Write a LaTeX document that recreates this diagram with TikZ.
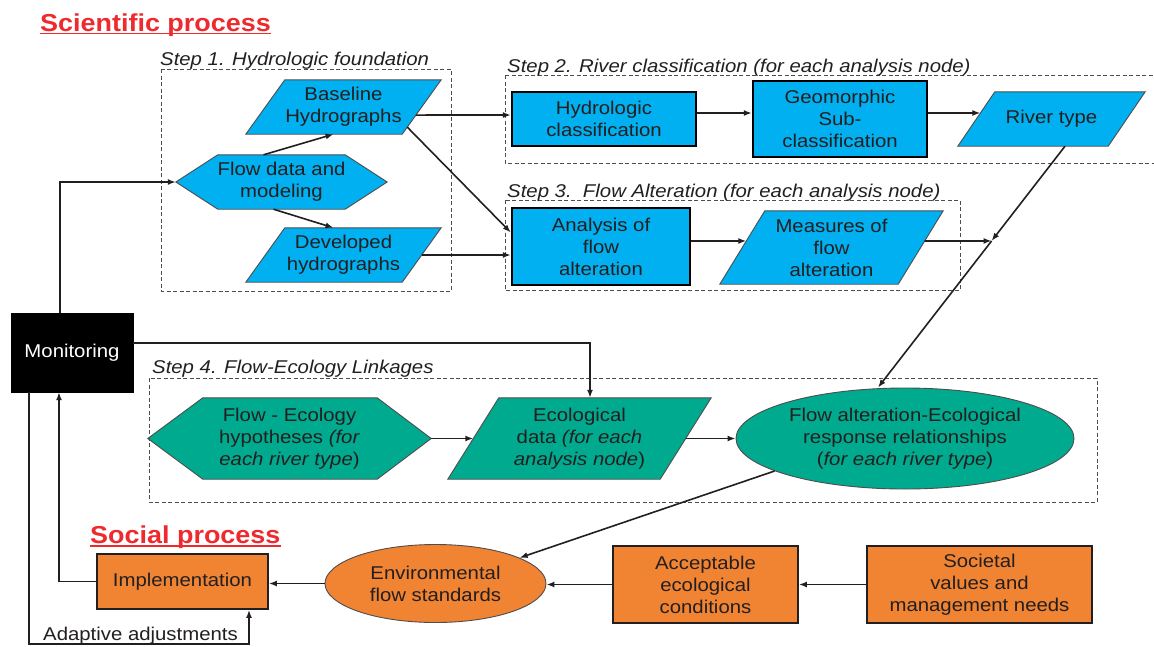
\documentclass[tikz,border=0pt]{standalone}
\usepackage{fontspec}
\setmainfont{Liberation Sans}[FakeStretch=1.1]
\usetikzlibrary{shapes.geometric,arrows.meta,calc}
\pgfdeclarelayer{bg}
\pgfsetlayers{bg,main}
\definecolor{cyanfill}{RGB}{0,176,240}
\definecolor{tealfill}{RGB}{0,170,142}
\definecolor{orangefill}{RGB}{240,132,51}
\definecolor{titlered}{RGB}{238,42,46}
\definecolor{ink}{RGB}{35,31,32}
\newcommand\drawpara[3]{\begin{pgfonlayer}{bg}\path[#3] (#1.south west) -- ($(#1.north west)+(#2,0)$) -- (#1.north east) -- ($(#1.south east)+(-#2,0)$) -- cycle;\end{pgfonlayer}}
\newcommand\drawhex[4]{\begin{pgfonlayer}{bg}\path[#4] (#1.west) -- ($(#1.north west)+(#2,0)$) -- ($(#1.north east)+(-#3,0)$) -- (#1.east) -- ($(#1.south east)+(-#3,0)$) -- ($(#1.south west)+(#2,0)$) -- cycle;\end{pgfonlayer}}
\begin{document}
\begin{tikzpicture}[x=1pt,y=-1pt,font=\fontsize{18.5}{22}\selectfont,
 lbl/.style={inner sep=0pt,align=center,text=ink},
 bluefill/.style={fill=cyanfill,draw=ink!80,line width=0.9pt},
 greenfill/.style={fill=tealfill,draw=ink!80,line width=0.9pt},
 thickbox/.style={lbl,rectangle,fill=cyanfill,draw=black,line width=2.4pt},
 orangebox/.style={lbl,rectangle,fill=orangefill,draw=ink,line width=1.8pt},
 stepframe/.style={draw=ink!80,line width=1pt,dash pattern=on 4pt off 2.5pt},
 steplabel/.style={anchor=base west,inner sep=0pt,text=ink,font=\fontsize{18.5}{22}\selectfont\itshape},
 arr/.style={draw=ink,line width=1.6pt,-{Latex[length=8pt,width=6pt]}},
 heading/.style={anchor=base west,inner sep=0pt,text=titlered,font=\fontsize{24.5}{28}\selectfont\bfseries}]
\useasboundingbox (0,0) rectangle (1154,646);
\begin{pgfonlayer}{bg}\fill[white] (0,0) rectangle (1154,646);\end{pgfonlayer}

% titles
\node[heading] (sci) at (40,31) {Scientific process};
\draw[titlered,line width=1.6pt] ($(sci.base west)+(0,2.5)$) -- ($(sci.base east)+(0,2.5)$);
\node[heading] (soctitle) at (90,543) {Social process};
\draw[titlered,line width=1.6pt] ($(soctitle.base west)+(0,3)$) -- ($(soctitle.base east)+(0,3)$);

% step frames
\draw[stepframe] (161,69) rectangle (451,291);
\node[steplabel] (s1) at (160,65) {Step 1. Hydrologic foundation};
\draw[stepframe] (505,75) rectangle (1160,163);
\node[steplabel] (s2) at (507,72) {Step 2. River classification (for each analysis node)};
\draw[stepframe] (505,200) rectangle (960,290);
\node[steplabel] (s3) at (507,197) {Step 3.~~Flow Alteration (for each analysis node)};
\draw[stepframe] (149,378) rectangle (1097,502);
\node[steplabel] (s4) at (152,373) {Step 4. Flow-Ecology Linkages};

% step 1
\node[lbl,minimum width=195pt,minimum height=54pt] (base) at (343.5,107) {Baseline\\Hydrographs};
\drawpara{base}{39}{bluefill}
\node[lbl,minimum width=211pt,minimum height=54pt] (fd) at (281.5,182) {Flow data and\\modeling};
\drawhex{fd}{42}{42}{bluefill}
\node[lbl,minimum width=195pt,minimum height=54pt] (dev) at (343.5,255) {Developed\\hydrographs};
\drawpara{dev}{39}{bluefill}

% step 2
\node[thickbox,minimum width=184pt,minimum height=54pt] (hydro) at (604,119) {Hydrologic\\classification};
\node[thickbox,minimum width=174pt,minimum height=76pt] (geo) at (840,119) {Geomorphic\\Sub-\\classification};
\node[lbl,minimum width=187pt,minimum height=54pt] (river) at (1051.5,119) {River type};
\drawpara{river}{37}{bluefill}

% step 3
\node[thickbox,minimum width=178pt,minimum height=77pt] (ana) at (601,246.5) {Analysis of\\flow\\alteration};
\node[lbl,minimum width=223pt,minimum height=73pt] (meas) at (831.5,247.5) {Measures of\\flow\\alteration};
\drawpara{meas}{45}{bluefill}

% monitoring
\node[draw=black,fill=black,text=white,inner sep=0pt,minimum width=122pt,minimum height=79pt] (mon) at (72,352.5) {Monitoring};

% step 4
\node[lbl,minimum width=283pt,minimum height=81pt] (feh) at (289.5,438.5) {Flow - Ecology\\hypotheses \textit{(for}\\\textit{each river type})};
\drawhex{feh}{55}{54}{greenfill}
\node[lbl,minimum width=263pt,minimum height=81pt] (eco) at (579.5,438.5) {Ecological\\data \textit{(for each}\\\textit{analysis node})};
\drawpara{eco}{51}{greenfill}
\node[lbl,ellipse,fill=tealfill,draw=ink!80,line width=0.9pt,minimum width=338pt,minimum height=101pt] (faer) at (905,438.5) {Flow alteration-Ecological\\response relationships\\(\textit{for each river type})};

% social
\node[orangebox,minimum width=171pt,minimum height=55pt] (impl) at (182.5,581.5) {Implementation};
\node[lbl,ellipse,fill=orangefill,draw=ink!80,line width=0.9pt,minimum width=221pt,minimum height=78pt] (env) at (435.5,583.5) {Environmental\\flow standards};
\node[orangebox,minimum width=185pt,minimum height=77pt] (acc) at (705.5,584.5) {Acceptable\\ecological\\conditions};
\node[orangebox,minimum width=225pt,minimum height=77pt] (soc) at (979.5,584.5) {Societal\\values and\\management needs};

% connectors
\draw[arr] ($(fd.north)+(-18,0)$) -- ($(base.south)+(-10,0)$);
\draw[arr] ($(fd.south)+(-8,0)$) -- ($(dev.north)+(-10,0)$);
\draw[arr] ($(base.south east)!0.352!(base.north east)+(-25.3,0)$) -- ($(hydro.west)+(0,-4)$);
\draw[arr] ($(base.south east)!0.13!(base.north east)+(-33.9,0)$) -- ($(ana.west)+(0,-14)$);
\draw[arr] ($(dev.east)+(-19.5,0)$) -- (dev.east -| ana.west);
\draw[arr] ($(hydro.east)+(0,-6)$) -- ($(geo.west)+(0,-6)$);
\draw[arr] ($(geo.east)+(0,-6)$) -- ($(river.south west)!0.611!(river.north west)+(22.6,0)$);
\draw[arr] ($(ana.east)+(0,-5.5)$) -- ($(meas.south west)!0.589!(meas.north west)+(26.5,0)$);
\coordinate (rs) at ($(river.south)+(13.5,0)$);
\coordinate (fe) at ($(faer.north)+(-27,0)$);
\coordinate (J) at ($(rs)!0.3926!(fe)$);
\draw[arr] ($(meas.south east)!0.589!(meas.north east)+(-18.5,0)$) -- (J);
\draw[arr] (rs) -- (J);
\draw[arr] (J) -- (fe);
\draw[arr] ($(mon.north)+(-12,0)$) |- (fd.west);
\draw[arr] ($(mon.east)+(0,-9.5)$) -| ($(eco.north)+(10.5,0)$);
\draw[arr] (feh.east) -- ($(eco.west)+(25.5,0)$);
\draw[arr] ($(eco.east)+(-25.5,0)$) -- (faer.west);
\draw[arr] (faer.194) -- (env.17);
\draw[arr] (soc.west) -- (acc.east);
\draw[arr] (acc.west) -- (acc.west -| env.east);
\draw[arr] (env.west) -- (env.west -| impl.east);
\draw[arr] (impl.west) -| ($(mon.south)+(-13,0)$);
\draw[arr] ($(mon.south)+(-43,0)$) -- ++(0,252) -| ($(impl.south)+(66.5,0)$);
\node[anchor=base west,inner sep=0pt,text=ink] (adj) at (43,640) {Adaptive adjustments};
\end{tikzpicture}
\end{document}
